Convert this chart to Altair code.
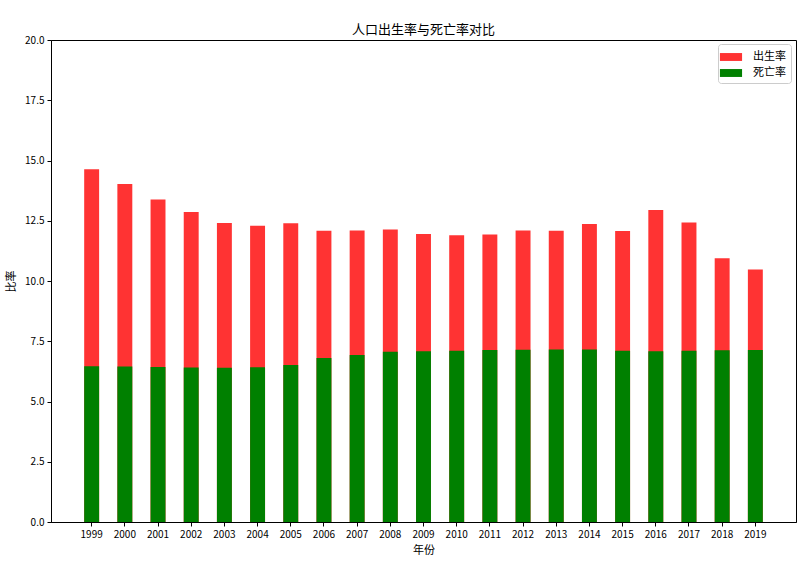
import altair as alt
import pandas as pd

years = [str(y) for y in range(1999, 2020)]
birth = [14.64, 14.03, 13.38, 12.86, 12.41, 12.29, 12.40, 12.09, 12.10, 12.14, 11.95,
         11.90, 11.93, 12.10, 12.08, 12.37, 12.07, 12.95, 12.43, 10.94, 10.48]
death = [6.46, 6.45, 6.43, 6.41, 6.40, 6.42, 6.51, 6.81, 6.93, 7.06, 7.08,
         7.11, 7.14, 7.15, 7.16, 7.16, 7.11, 7.09, 7.11, 7.13, 7.14]
series = ["出生率", "死亡率"]
colors = ["#ff3333", "#008000"]

rows = []
for i, y in enumerate(years):
    rows.append({"年份": y, "系列": series[0], "值": birth[i], "ord": 0})
    rows.append({"年份": y, "系列": series[1], "值": death[i], "ord": 1})
df = pd.DataFrame(rows)

FONT = "Noto Sans CJK SC"

chart = alt.Chart(df).mark_bar().encode(
    x=alt.X("年份:N", sort=years,
            scale=alt.Scale(paddingInner=0.55, paddingOuter=1.0),
            axis=alt.Axis(title="年份", labelAngle=0, labelFontSize=10, titleFontSize=11,
                          titleFontWeight="normal", labelColor="#000", titleColor="#000",
                          tickColor="#000", domainColor="#000", labelPadding=3,
                          titlePadding=5, tickSize=4)),
    y=alt.Y("值:Q", stack=None,
            scale=alt.Scale(domain=[0, 20], nice=False),
            axis=alt.Axis(title="比率", values=[0, 2.5, 5, 7.5, 10, 12.5, 15, 17.5, 20],
                          format=".1f", grid=False, labelFontSize=10, titleFontSize=11,
                          titleFontWeight="normal", labelColor="#000", titleColor="#000",
                          tickColor="#000", domainColor="#000", tickSize=4,
                          labelPadding=3, titlePadding=8)),
    color=alt.Color("系列:N", sort=series,
                    scale=alt.Scale(domain=series, range=colors),
                    legend=alt.Legend(title=None, orient="none", legendX=667, legendY=4,
                                      symbolType="M-1.4,-0.5H1.4V0.5H-1.4Z", symbolSize=250,
                                      labelFontSize=11, fillColor="white",
                                      strokeColor="#cccccc", padding=5, cornerRadius=3,
                                      rowPadding=3, labelColor="#000", labelOffset=14,
                                      symbolStrokeWidth=0)),
    order=alt.Order("ord:Q"),
).properties(
    width=745, height=482,
    title=alt.TitleParams("人口出生率与死亡率对比", fontSize=13, fontWeight="normal",
                          color="#000", offset=-2),
    padding={"left": 51, "top": 40, "right": 13, "bottom": 41},
    autosize=alt.AutoSizeParams(type="none"),
).configure(
    font=FONT,
    view=alt.ViewConfig(stroke="#000", strokeWidth=1),
)

chart.save("out.html", embed_options={"renderer": "svg", "actions": False})
